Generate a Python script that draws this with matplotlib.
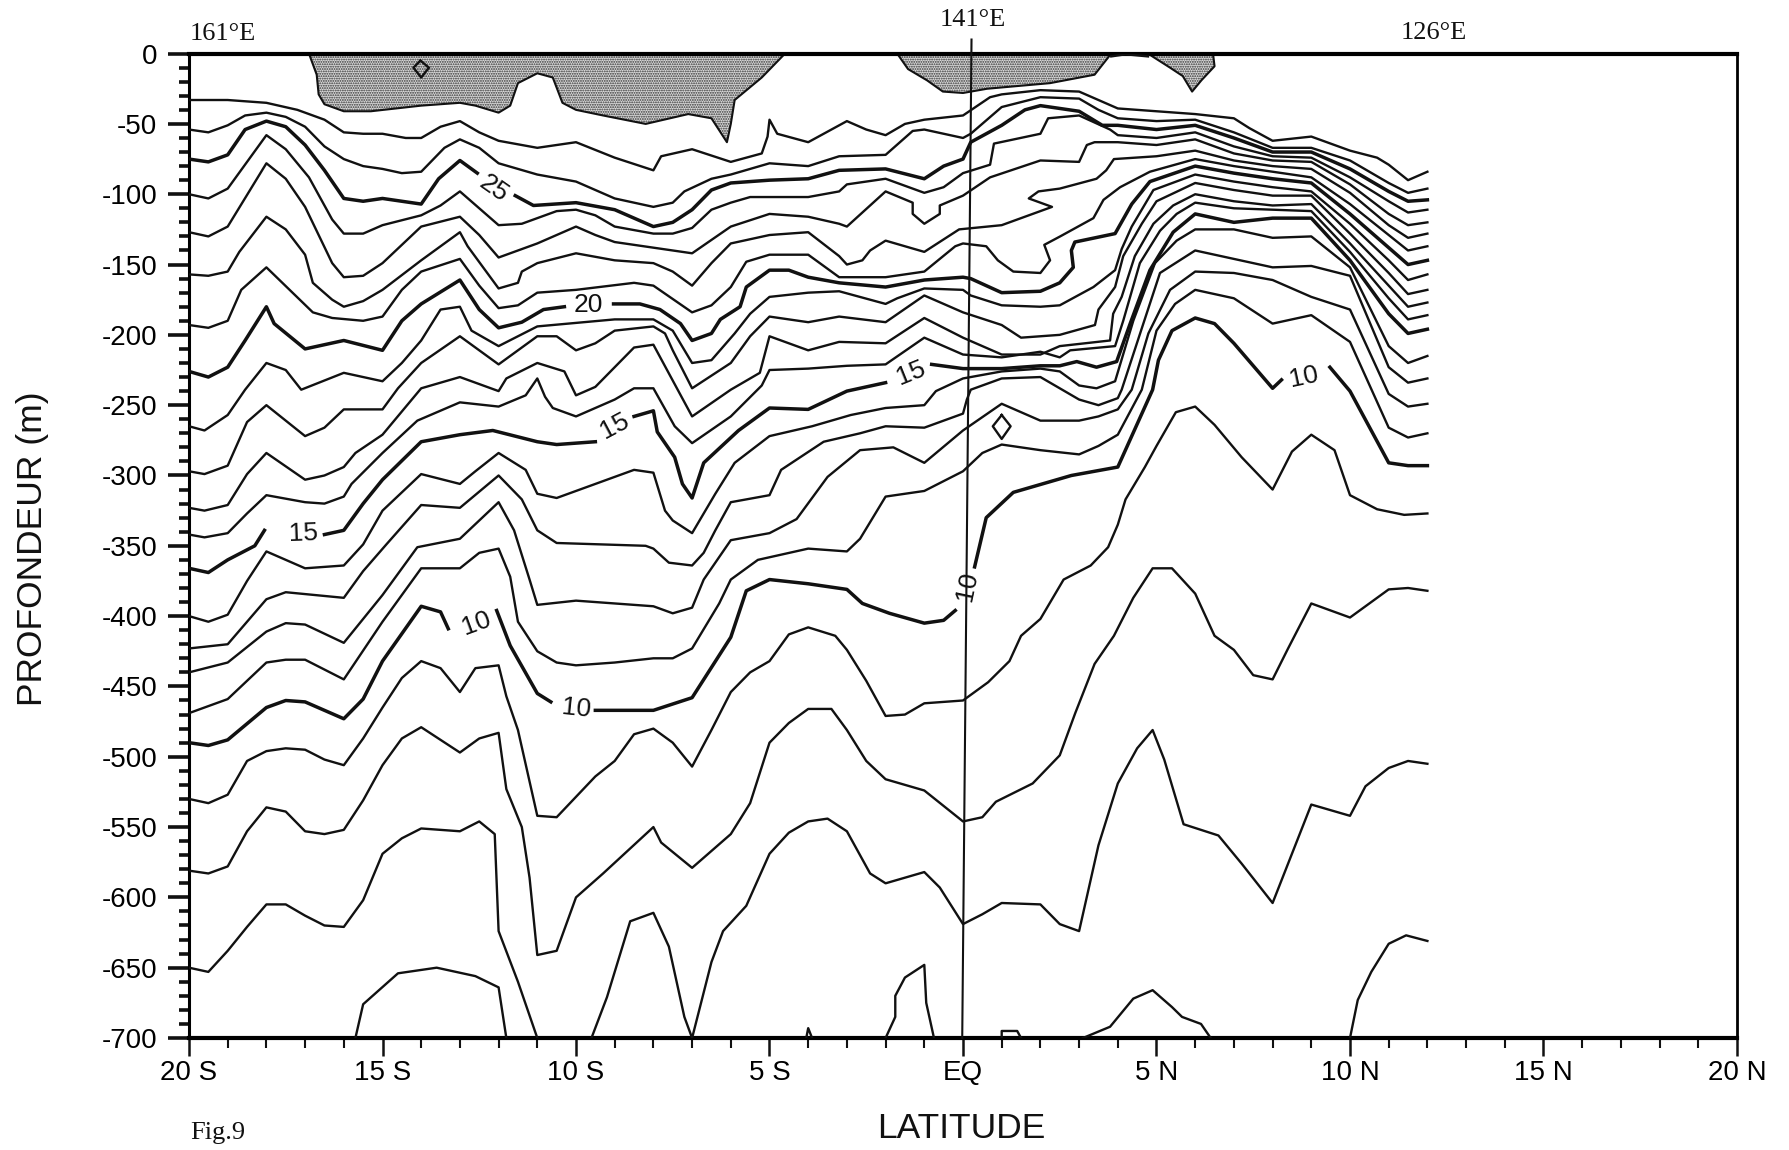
import matplotlib
matplotlib.use('Agg')
import matplotlib.pyplot as plt

T27 = [(-20,33),(-19,33),(-18,35),(-17.2,40),(-16.5,47),(-16,56),(-15.5,57),(-15,57),(-14.4,60),(-14,60),(-13.5,52),(-13,48),(-12.5,56),(-12,62),(-11,67),(-10,63),(-9,74),(-8,83),(-7.8,73),(-7,68),(-6,77),(-5.2,71),(-5.05,59),(-5,47),(-4.8,57),(-4,63),(-3.2,51),(-3,48),(-2.5,54),(-2,58),(-1.5,50),(-1,47),(0,44),(.7,31),(1,29),(2,26),(3,27),(3.5,33),(4,39),(5,41),(6,43),(7,46),(7.4,53),(8,62),(9,59),(10,69),(10.7,74),(11,79),(11.5,90),(12,84)]
T26 = [(-20,54),(-19.5,56),(-19,51),(-18.55,44),(-18,42),(-17.5,45),(-17,52),(-16.5,66),(-16,75),(-15.5,80),(-15,82),(-14.5,85),(-14,84),(-13.4,67),(-13,61),(-12.5,67),(-12,78),(-11,86),(-10,91),(-9,103),(-8,109),(-7.5,106),(-7.2,98),(-6.5,89),(-6,86),(-5,78),(-4,80),(-3.2,73),(-2,72),(-1.3,55),(-1,54),(0,60),(.2,57),(1,38),(2,31),(3,32),(3.5,40),(4,46),(5,48),(6,47),(7,56),(8,67),(9,67),(10,76),(11,92),(11.5,99),(12,96)]
T25_A = [(-20,75),(-19.5,77),(-19,72),(-18.55,54),(-18,48),(-17.5,52),(-17,65),(-16.5,83),(-16,103),(-15.5,105),(-15,103),(-14.5,105),(-14,107),(-13.55,89),(-13,76),(-12.55,85)]
T25_B = [(-11.57,101),(-11.1,108),(-10,106),(-9,111),(-8.5,117),(-8,123),(-7.5,120),(-7,111),(-6.5,97),(-6,92),(-5,90),(-4,89),(-3.2,83),(-2,82),(-1,89),(-.5,80),(0,75),(.2,63),(1,51),(1.6,40),(2,37),(3,41),(3.6,51),(4,51),(5,54),(6,51),(7,60),(8,70),(9,70),(10,82),(11,98),(11.5,105),(12,104)]
T24 = [(-20,100),(-19.5,103),(-19,96),(-18,58),(-17.5,68),(-16.9,88),(-16.3,118),(-16,128),(-15.5,128),(-15,122),(-14,115),(-13.5,108),(-13,98),(-12.5,110),(-12,122),(-11.4,121),(-10.5,112),(-10,111),(-9.5,115),(-9,123),(-8,128),(-7.5,128),(-7,124),(-6.5,111),(-6,106),(-5.5,102),(-5,102),(-4,102),(-3.2,98),(-3,93),(-2,89),(-1,99),(-.5,95),(0,85),(.7,79),(.8,64),(2,57),(2.2,46),(3,44),(3.8,54),(4,58),(5,60),(6,56),(7,66),(8,73),(9,74),(10,88),(11,105),(11.5,113),(12,111)]
T23 = [(-20,127),(-19.5,130),(-19,123),(-18,78),(-17.5,89),(-17,109),(-16.3,149),(-16,159),(-15.5,158),(-15,149),(-14,123),(-13,116),(-12.5,129),(-12,145),(-11,135),(-10,123),(-9.5,129),(-9,134),(-8,138),(-7,142),(-6,123),(-5,114),(-4,116),(-3.2,121),(-3,123),(-2,98),(-1.3,106),(-1.3,114),(-1,121),(-.6,114),(-.6,108),(0,101),(.7,88),(2,76),(3,77),(3.2,65),(3.4,63),(4,63),(5,65),(6,61),(7,71),(8,76),(9,77),(10,93),(11,114),(11.5,122),(12,120)]
T22 = [(-20,157),(-19.5,158),(-19,155),(-18.7,141),(-18,116),(-17.5,125),(-17,143),(-16.8,163),(-16.3,175),(-16,180),(-15.5,176),(-15,168),(-14,147),(-13,127),(-12.8,137),(-12,167),(-11.5,163),(-11.4,155),(-11,149),(-10,142),(-9,147),(-8,149),(-7.5,155),(-7,165),(-6.5,149),(-6,135),(-5,129),(-4,127),(-3.2,144),(-3,150),(-2.6,147),(-2.4,140),(-2,133),(-1,141),(-.1,125),(1,122),(2,112),(2.3,109),(1.7,103),(1.95,98),(2.5,96),(3.45,89),(3.7,83),(3.9,75),(5,73),(6,69),(7,76),(8,80),(9,82),(10,99),(11,122),(11.5,131),(12,128)]
T21 = [(-20,193),(-19.5,195),(-19,190),(-18.65,168),(-18,152),(-17.4,168),(-16.8,184),(-16.3,188),(-15.5,190),(-15,187),(-14.5,168),(-14,155),(-13,146),(-12.5,165),(-12,181),(-11.5,179),(-11,170),(-10,168),(-8.5,163),(-8,165),(-7,184),(-6.5,179),(-6,166),(-5.6,148),(-5,143),(-4,143),(-3.7,149),(-3.2,159),(-2,159),(-1,155),(-.2,137),(0,135),(.6,137),(.9,147),(1.3,155),(2,156),(2.25,147),(2.1,136),(2.51,130),(3.37,117),(3.63,104),(4.06,95),(4.83,84),(6,75),(7,80),(8,84),(9,88),(10,107),(11,129),(11.5,140),(12,137)]
T20_A = [(-20,226),(-19.5,230),(-19,223),(-18.55,204),(-18,180),(-17.8,192),(-17,210),(-16,204),(-15,211),(-14.5,190),(-14,178),(-13,161),(-12.5,182),(-12,195),(-11.4,191),(-10.84,182),(-10.3,180)]
T20_B = [(-9.03,178),(-8.35,178),(-7.83,182),(-7.3,192),(-7,204),(-6.5,199),(-6.27,189),(-5.76,180),(-5.6,166),(-5,154),(-4.5,154),(-4,159),(-3.2,163),(-2,166),(-1,161),(0,159),(.2,160),(1,170),(2,169),(2.5,163),(2.85,152),(2.8,140),(2.89,134),(3.93,128),(4.36,107),(4.83,91),(6,80),(7,85),(8,89),(9,92),(10,114),(11,138),(11.5,150),(12,147)]
T19 = [(-20,265),(-19.6,268),(-19,257),(-18.55,239),(-18,220),(-17.5,225),(-17.1,239),(-16,227),(-15,233),(-14.5,220),(-14,204),(-13.5,182),(-13,180),(-12.7,197),(-12,208),(-11,194),(-9,189),(-8,189),(-7.5,197),(-7,220),(-6.5,218),(-5.9,199),(-5.5,185),(-5,173),(-4,170),(-3.2,169),(-2,178),(-1.7,174),(-1,167),(0,168),(.2,172),(1,179),(2,180),(2.5,179),(3.37,166),(3.93,154),(4.1,139),(4.36,123),(4.92,97),(6,86),(7,91),(8,95),(9,98),(10,121),(11,147),(11.5,161),(12,157)]
T18 = [(-20,297),(-19.6,299),(-19,293),(-18.5,262),(-18,250),(-17,272),(-16.5,266),(-16,253),(-15,253),(-14.6,238),(-14,220),(-13,201),(-12,221),(-11,201),(-10.5,201),(-10,211),(-9.5,206),(-9,197),(-8,194),(-7.7,199),(-7.5,211),(-7,238),(-6,220),(-5.5,201),(-5,187),(-4,191),(-3.2,187),(-2,191),(-1,172),(0,184),(1,193),(1.5,202),(2,201),(2.5,200),(3.41,193),(3.5,182),(3.93,166),(4.14,144),(4.62,121),(5,105),(6,92),(7,97),(8,101),(9,101),(10,128),(11,156),(11.5,171),(12,168)]
T17 = [(-20,323),(-19.6,325),(-19,321),(-18.5,299),(-18,284),(-17,303),(-16.5,300),(-16,294),(-15.7,284),(-15,271),(-14,238),(-13,230),(-12,240),(-11.8,231),(-11,220),(-10.3,226),(-10,243),(-9.5,237),(-8.5,209),(-8,207),(-7,258),(-6,239),(-5.25,227),(-5,201),(-4,211),(-3.2,205),(-2,206),(-1,188),(0,202),(1,214),(2,214),(2.5,208),(3.8,204),(3.88,185),(4.1,173),(4.44,144),(4.92,121),(5.43,108),(6,100),(7,105),(8,108),(9,107),(10,135),(11,165),(11.5,180),(12,177)]
T16 = [(-20,342),(-19.6,344),(-19,341),(-18.5,327),(-18,314),(-17,319),(-16.5,320),(-16,315),(-15.8,306),(-15,284),(-14.1,261),(-13,248),(-12,251),(-11.3,243),(-11,231),(-10.8,244),(-10.6,252),(-10,258),(-9,246),(-8.5,238),(-8,238),(-7.45,265),(-7,277),(-6,258),(-5.2,236),(-5,225),(-4,224),(-3,222),(-2,221),(-1,202),(0,214),(1,216),(2,212),(2.5,216),(2.77,211),(3.93,208),(4.14,190),(4.57,149),(5.09,126),(5.52,114),(6,106),(7,110),(8,111),(9,112),(10,141),(11,174),(11.5,189),(12,186)]
T15_A = [(-20,366),(-19.5,369),(-19,360),(-18.3,350),(-18.05,339)]
T15_B = [(-16.5,342),(-16,339),(-15.5,320),(-15,303),(-14,276),(-13,271),(-12.15,268),(-11,276),(-10.5,278),(-9.5,276)]
T15_C = [(-8.5,258),(-8,254),(-7.9,269),(-7.45,287),(-7.25,306),(-7,316),(-6.7,291),(-5.8,268),(-5,252),(-4,253),(-3,240),(-2,234)]
T15_D = [(-.81,221),(0,224),(1,224),(2,222),(2.5,222),(2.94,219),(3.45,223),(3.97,219),(4.32,192),(4.83,154),(5.43,127),(6,114),(7,120),(8,117),(9,117),(10,147),(11,185),(11.5,199),(12,196)]
T14 = [(-20,400),(-19.5,404),(-19,399),(-18.5,375),(-18,354),(-17,366),(-16,364),(-15.5,349),(-15,325),(-14,299),(-13,306),(-12.6,297),(-12,284),(-11.3,296),(-11,313),(-10.5,316),(-8.5,296),(-8,298),(-7.7,325),(-7.5,332),(-7,341),(-6.4,313),(-5.9,291),(-5,272),(-3.9,265),(-2.9,257),(-2,252),(-1,250),(-.7,240),(0,231),(1,226),(2,224),(2.5,226),(3,236),(3.45,238),(3.93,233),(4.4,190),(4.96,149),(5.52,133),(6,125),(7,125),(8,131),(9,130),(10,152),(11,208),(11.5,220),(12,215)]
T13 = [(-20,423),(-19,420),(-18,388),(-17.5,383),(-16,387),(-15.5,368),(-14.9,349),(-14,321),(-13,323),(-12,300),(-11.4,317),(-11,339),(-10.5,348),(-8.2,350),(-8,352),(-7.6,362),(-7,364),(-6.7,355),(-6.4,339),(-6,319),(-5,314),(-4.7,296),(-3.6,276),(-2.66,270),(-2,265),(-1,266),(0,256),(.1,246),(.2,239),(1,231),(2,230),(3,246),(3.5,250),(4,245),(4.1,239),(4.66,192),(5.09,156),(6,140),(7,146),(8,152),(9,151),(10,158),(11,223),(11.5,234),(12,231)]
T12 = [(-20,440),(-19,433),(-18,411),(-17.5,405),(-17,406),(-16,419),(-15,385),(-14.1,351),(-13,345),(-12,319),(-11.6,339),(-11.2,374),(-11,392),(-10,389),(-8,393),(-7.5,398),(-7,394),(-6.7,374),(-6,346),(-5,341),(-4.3,331),(-3.5,301),(-2.66,282),(-1.8,280),(-1,291),(0,268),(1,249),(2,261),(3,261),(3.5,258),(4,253),(4.36,239),(4.79,199),(5.35,168),(6,155),(7,156),(8,161),(9,173),(10,182),(11,242),(11.5,251),(12,249)]
T11 = [(-20,469),(-19,459),(-18,433),(-17.5,431),(-17,431),(-16,445),(-15,404),(-14,366),(-13,366),(-12.5,355),(-12,352),(-11.7,372),(-11.5,404),(-11,425),(-10.5,433),(-10,435),(-9,433),(-8,430),(-7.5,430),(-7,423),(-6.3,391),(-6,374),(-5.3,360),(-4,352),(-3,354),(-2.66,345),(-2,315),(-1,311),(0,297),(.5,284),(1,278),(2,282),(3,285),(3.5,279),(4,271),(4.62,239),(5,197),(5.48,178),(6,168),(7,174),(8,192),(9,186),(10,205),(11,266),(11.5,273),(12,270)]
T10_A = [(-20,490),(-19.5,492),(-19,488),(-18,465),(-17.5,460),(-17,461),(-16,473),(-15.5,459),(-15,432),(-14,393),(-13.5,397),(-13.3,409)]
T10_B = [(-12.05,396),(-11.7,421),(-11,455),(-10.65,461)]
T10_C = [(-9.5,467),(-8,467),(-7,458),(-6,415),(-5.6,382),(-5,374),(-4,377),(-3,381),(-2.6,391),(-1.9,398),(-1,405),(-.5,403),(-.2,396)]
T10_D = [(.3,365),(.6,330),(1.3,312),(2.8,300),(4,294),(4.9,239),(5.05,218),(5.4,197),(6,188),(6.5,192),(7,206),(8,238),(8.23,232)]
T10_E = [(9.48,223),(10,240),(11,291),(11.5,293),(12,293)]
T9 = [(-20,530),(-19.5,533),(-19,527),(-18.5,503),(-18,496),(-17.5,494),(-17,495),(-16.5,502),(-16,506),(-15.5,487),(-15,465),(-14.5,444),(-14,432),(-13.5,437),(-13,454),(-12.6,437),(-12,435),(-11.8,457),(-11.5,481),(-11,542),(-10.5,543),(-9.5,514),(-9,503),(-8.5,484),(-8,480),(-7.5,490),(-7,507),(-6.5,481),(-6,454),(-5.5,440),(-5,432),(-4.5,413),(-4,408),(-3.3,414),(-3,424),(-2.5,446),(-2,471),(-1.5,470),(-1,462),(0,460),(.65,447),(1.2,432),(1.5,414),(2,402),(2.6,374),(3.3,364),(3.75,351),(4,335),(4.2,317),(4.7,294),(5,279),(5.5,255),(6,251),(6.5,264),(7.2,287),(8,310),(8.5,283),(9,271),(9.6,282),(10,314),(10.7,324),(11.4,328),(12,327)]
T8 = [(-20,581),(-19.5,583),(-19,578),(-18.5,553),(-18,536),(-17.5,539),(-17,553),(-16.5,555),(-16,552),(-15.5,531),(-15,506),(-14.5,487),(-14,479),(-13,497),(-12.5,487),(-12,483),(-11.8,523),(-11.4,550),(-11.2,586),(-11,641),(-10.5,638),(-10,600),(-9.3,583),(-8,550),(-7.8,561),(-7,579),(-6,555),(-5.5,533),(-5,490),(-4.5,476),(-4,466),(-3.4,466),(-3,481),(-2.5,503),(-2,516),(-1,524),(0,546),(.5,543),(.85,532),(1.8,519),(2.5,499),(2.9,469),(3.4,434),(3.9,414),(4.4,387),(4.9,366),(5.4,366),(6,384),(6.5,414),(7,424),(7.5,442),(8,445),(8.4,423),(9,391),(10,401),(11,381),(11.5,380),(12,382)]
T7_A = [(-20,650),(-19.5,653),(-19,638),(-18.5,621),(-18,605),(-17.5,605),(-17,613),(-16.5,620),(-16,621),(-15.5,602),(-15,569),(-14.5,558),(-14,551),(-13,553),(-12.5,546),(-12.1,555),(-12,624),(-11.5,660),(-11,700)]
T7_B = [(-9.6,700),(-9.2,671),(-8.6,617),(-8,611),(-7.6,635),(-7.2,685),(-7,700),(-6.5,646),(-6.2,624),(-5.6,606),(-5,569),(-4.5,554),(-4,546),(-3.5,544),(-3,553),(-2.4,583),(-2,590),(-1,582),(-.6,593),(0,619),(.5,612),(1,604),(2,605),(2.5,619),(3,624),(3.5,563),(4,519),(4.5,494),(4.9,481),(5.2,502),(5.7,548),(6.6,556),(7.2,576),(8,604),(8.4,576),(9,534),(10,542),(10.4,521),(11,508),(11.5,503),(12,505)]
T6_A = [(-15.7,700),(-15.5,676),(-14.6,654),(-13.6,650),(-12.6,656),(-12,664),(-11.8,700)]
T6_B = [(-4.05,700),(-4,693),(-3.9,700)]
T6_C = [(-2,700),(-1.75,685),(-1.75,670),(-1.5,657),(-1,648),(-.95,675),(-.75,700)]
T6_D = [(1,700),(1,695),(1.4,695),(1.5,700)]
T6_E = [(3.1,700),(3.8,692),(4.4,672),(4.9,666),(5.4,678),(5.66,685),(6.15,690),(6.4,700)]
T6_F = [(10,700),(10.2,673),(10.55,653),(11,633),(11.45,627),(12,631)]

THIN = [T27, T26, T24, T23, T22, T21, T19, T18, T17, T16, T14, T13, T12, T11, T9, T8, T7_A, T7_B, T6_A, T6_B, T6_C, T6_D, T6_E, T6_F]
BOLD = [T25_A, T25_B, T20_A, T20_B, T15_A, T15_B, T15_C, T15_D, T10_A, T10_B, T10_C, T10_D, T10_E]

# warm water above 28 degrees, shaded under the surface
WARM_1 = [(-16.9,0),(-16.7,15),(-16.65,29),(-16.5,36),(-16,41),(-15.3,41),(-14,37),(-13,35),(-12.6,37),(-12,42),(-11.7,37),(-11.5,21),(-11,14),(-10.6,17),(-10.35,35),(-10,40),(-9.3,44),(-8.2,50),(-7.1,43),(-6.5,46),(-6.1,63),(-6,50),(-5.9,33),(-5.2,17),(-4.6,0)]
WARM_2 = [(-1.7,0),(-1.42,11),(-.93,19),(-.52,27),(0,28),(.62,25),(2.25,21),(3.4,15),(3.83,0)]
WARM_3 = [(4.78,0),(5.35,10),(5.68,16),(5.92,27),(6.16,19),(6.5,9),(6.46,0)]
SURFACE_ARC = [(3.83,2),(4.2,0.5),(4.78,2)]
RING_1 = [(-14.02,5),(-14.2,10),(-14,17),(-13.8,10),(-14.02,5)]
RING_2 = [(1,257),(.77,265),(1,274),(1.23,265),(1,257)]
MERIDIAN = [(0.22,-10),(-0.02,700)]

# label text, latitude, depth, rotation
LABELS = [('25',-12.13,96,-35),('20',-9.68,179,0),('15',-1.34,227,22),('15',-17.05,341,2),
          ('15',-9.0,265,28),('10',8.82,230,12),('10',-12.57,405,20),('10',-9.98,466,-6),('10',0.1,379,78)]

X_MAJOR = [-20,-15,-10,-5,0,5,10,15,20]
X_LABELS = ['20 S','15 S','10 S','5 S','EQ','5 N','10 N','15 N','20 N']
Y_MAJOR = [0,-50,-100,-150,-200,-250,-300,-350,-400,-450,-500,-550,-600,-650,-700]

plt.rcParams['font.family'] = ['Liberation Sans', 'DejaVu Sans']
plt.rcParams['axes.unicode_minus'] = False
W, H = 1790, 1150
fig = plt.figure(figsize=(W/100, H/100), dpi=100)
L, R, T, B = 189, 1737, 53.6, 1038
ax = fig.add_axes([L/W, 1-B/H, (R-L)/W, (B-T)/H])

def xy(pts):
    return [p[0] for p in pts], [-p[1] for p in pts]

plt.rcParams['hatch.linewidth'] = 0.9
for pts in [WARM_1, WARM_2, WARM_3]:
    x, y = xy(pts)
    ax.fill(x, y, facecolor='#d8d8d8', edgecolor='#333333', hatch='.......', lw=0, zorder=1)
    ax.plot(x, y, color='#111111', lw=1.5, zorder=2)

for pts in THIN + [SURFACE_ARC, RING_1, RING_2]:
    x, y = xy(pts)
    ax.plot(x, y, color='#111111', lw=1.7, solid_joinstyle='round', zorder=3)
for pts in BOLD:
    x, y = xy(pts)
    ax.plot(x, y, color='#111111', lw=2.5, solid_joinstyle='round', zorder=3)

x, y = xy(MERIDIAN)
ax.plot(x, y, color='#111111', lw=1.5, clip_on=False, zorder=4)

for txt, lat, dep, rot in LABELS:
    ax.text(lat, -dep, txt, fontsize=19, rotation=rot, ha='center', va='center',
            rotation_mode='anchor', color='#111111', zorder=5)

ax.set_xlim(-20, 20)
ax.set_ylim(-700, 0)
ax.set_xticks(X_MAJOR)
ax.set_xticklabels(X_LABELS, fontsize=20)
ax.set_xticks(range(-20, 21), minor=True)
ax.set_yticks(Y_MAJOR)
ax.set_yticks(range(-700, 1, 10), minor=True)
ax.tick_params(axis='y', which='major', length=15, width=2.6, labelsize=20, pad=8, color='#111111')
ax.tick_params(axis='y', which='minor', length=7.5, width=2.6, color='#111111')
ax.tick_params(axis='x', which='major', length=13, width=1.8, pad=3, color='#111111')
ax.tick_params(axis='x', which='minor', length=7, width=1.5, color='#111111')
ax.spines['top'].set_linewidth(3)
ax.spines['bottom'].set_linewidth(3)
ax.spines['left'].set_linewidth(2.2)
ax.spines['right'].set_linewidth(2)
ax.set_zorder(2)

fig.text(33/W, 1-549/H, 'PROFONDEUR (m)', fontsize=25.5, rotation=90, ha='center', va='center', color='#111111')
fig.text(961/W, 1-1129/H, 'LATITUDE', fontsize=25.5, ha='center', va='center', color='#111111')
serif = ['Liberation Serif', 'DejaVu Serif']
fig.text(190/W, 1-34/H, '161°E', fontsize=19, family=serif, ha='left', va='center', color='#111111')
fig.text(973/W, 1-20/H, '141°E', fontsize=19, family=serif, ha='center', va='center', color='#111111')
fig.text(1434/W, 1-33/H, '126°E', fontsize=19, family=serif, ha='center', va='center', color='#111111')
fig.text(190/W, 1-1133/H, 'Fig.9', fontsize=19, family=serif, ha='left', va='center', color='#111111')

fig.savefig('out.png', dpi=100)
